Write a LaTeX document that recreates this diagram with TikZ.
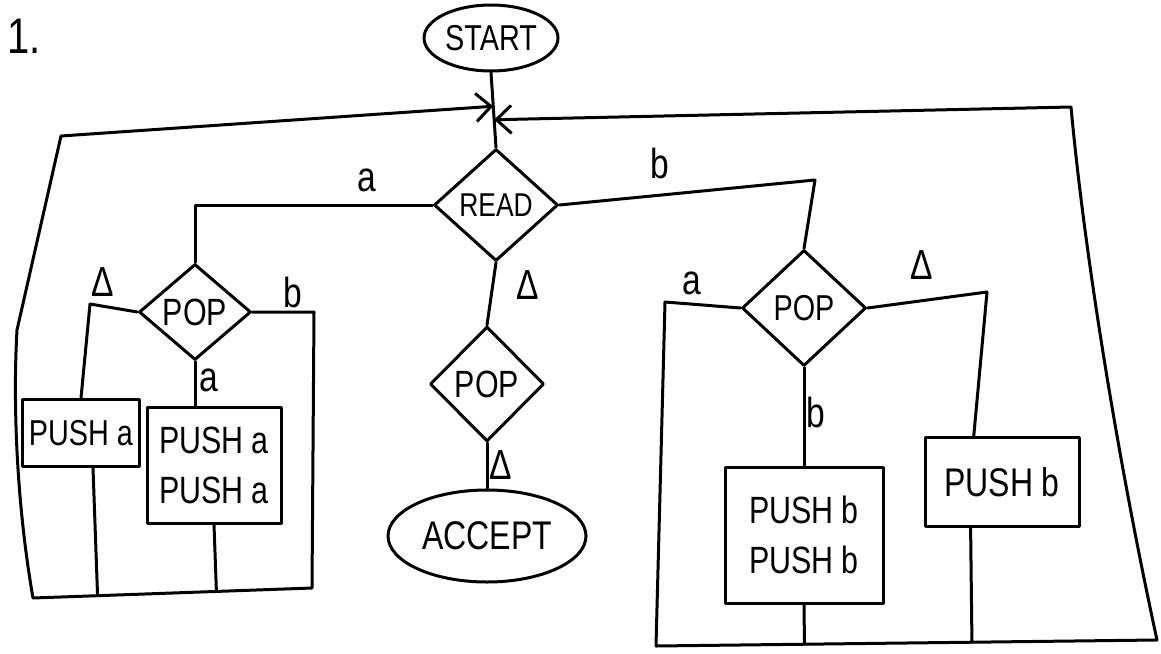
\documentclass[tikz,border=0pt]{standalone}
\usepackage{fontspec}
\newfontfamily\hand[FakeStretch=0.8]{Liberation Sans}
\usetikzlibrary{shapes.geometric,arrows.meta,calc}
\begin{document}
\begin{tikzpicture}[x=1pt,y=-1pt,
  line width=3pt, line join=round, line cap=round,
  dia/.style={diamond, draw, inner sep=0pt, aspect=1},
  oval/.style={ellipse, draw, inner sep=0pt},
  box/.style={rectangle, draw, inner sep=0pt, align=center},
  lbl/.style={inner sep=0pt, font=\hand\fontsize{42}{46}\selectfont},
  txt/.style={font=\hand\fontsize{#1}{#1}\selectfont},
  twoline/.style={font=\hand\fontsize{38}{50}\selectfont},
  arr/.style={-{Straight Barb[length=15pt,width=28pt]}}
]
\useasboundingbox (0,0) rectangle (1161,653);

% number
\node[inner sep=0pt, txt=50] (num) at (24,36) {1.};

% main column
\node[oval, txt=36, minimum width=134pt, minimum height=66pt] (start) at (491,38) {START};
\node[dia, txt=33, minimum width=124pt, minimum height=112pt] (read) at (496,205) {READ};
\node[dia, txt=38, minimum width=114pt, minimum height=115pt] (mpop) at (487,384) {POP};
\node[oval, txt=40, minimum width=198pt, minimum height=92pt] (accept) at (487,536) {ACCEPT};

% left branch
\node[dia, txt=38, minimum width=112pt, minimum height=96pt] (lpop) at (195,312) {POP};
\node[box, txt=36, minimum width=117pt, minimum height=67pt] (pa1) at (81,433) {PUSH a};
\node[box, twoline, minimum width=134pt, minimum height=116pt] (pa2) at (214,465) {PUSH a\\PUSH a};

% right branch
\node[dia, txt=36, minimum width=124pt, minimum height=116pt] (rpop) at (804,308) {POP};
\node[box, twoline, minimum width=158pt, minimum height=136pt] (pbb) at (804,535) {PUSH b\\PUSH b};
\node[box, txt=40, minimum width=154pt, minimum height=89pt] (pb1) at (1002,482) {PUSH b};

% junctions on the START--READ line
\coordinate (jl) at ($(start.south)!0.45!(read.north)$);
\coordinate (jr) at ($(start.south)!0.63!(read.north)$);
\draw (start.south) -- (read.north);

% READ branches
\draw (read.west) -| (lpop.north);
\draw (read.east) -- (815,180) -- (rpop.north);
\draw (read.south) -- (mpop.north);
\draw (mpop.south) -- (accept.north);

% left loop
\coordinate (lbr) at (312,588);
\coordinate (lcb) at (33,598);
\coordinate (ltl) at (61,136);
\draw (lpop.west) -- (90,304) -- (pa1.north);
\draw (lpop.south) -- (lpop.south |- pa2.north);
\draw[arr] (lpop.east) -- (314,312) -- (lbr) -- (lcb)
  .. controls (16,500) and (13,400) .. (17,330) -- (ltl) -- (jl);
\coordinate (pa1b) at ($(pa1.south west)!0.6!(pa1.south east)$);
\draw (pa1b) -- ($(lcb)!(pa1b)!(lbr)$);
\draw (pa2.south) -- ($(lcb)!(pa2.south)!(lbr)$);

% right loop
\coordinate (rbl) at (656,646);
\coordinate (rbr) at (1157,640);
\coordinate (rtr) at (1071,107);
\draw (rpop.south) -- (pbb.north);
\coordinate (pb1t) at ($(pb1.north west)!0.32!(pb1.north east)$);
\draw (rpop.east) -- (987,292) -- (pb1t);
\draw[arr] (rpop.west) -- (665,302) -- (rbl) -- (rbr)
  .. controls (1120,470) and (1085,260) .. (rtr) -- (jr);
\coordinate (pb1b) at ($(pb1.south west)!0.3!(pb1.south east)$);
\draw (pb1b) -- ($(rbl)!(pb1b)!(rbr)$);
\draw (pbb.south) -- ($(rbl)!(pbb.south)!(rbr)$);

% labels
\node[lbl] (la1) at (367,180) {a};
\node[lbl] (lb1) at (660,163) {b};
\node[lbl] (ld1) at (528,285) {Δ};
\node[lbl] (ld2) at (501,465) {Δ};
\node[lbl] (ld3) at (103,282) {Δ};
\node[lbl] (lb2) at (293,292) {b};
\node[lbl] (la2) at (209,380) {a};
\node[lbl] (la3) at (692,283) {a};
\node[lbl] (ld4) at (922,265) {Δ};
\node[lbl] (lb3) at (816,412) {b};
\end{tikzpicture}
\end{document}
